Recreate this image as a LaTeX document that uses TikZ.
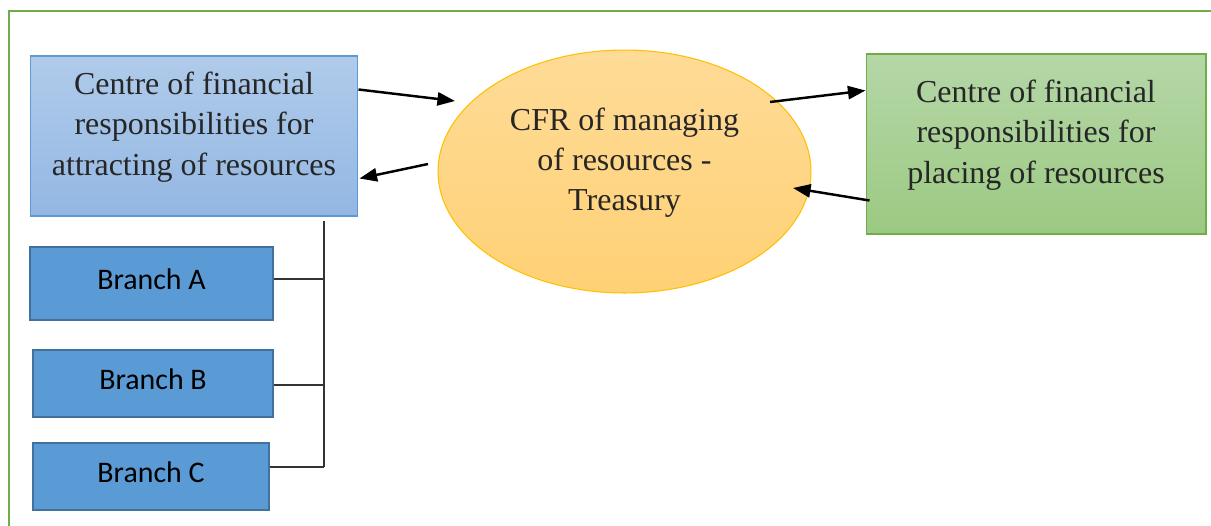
\documentclass[tikz,border=0pt]{standalone}
\usepackage{fontspec}
\setmainfont{Liberation Serif}
\newfontfamily\calibri{Carlito}
\usepackage{xcolor}
\usetikzlibrary{shapes.geometric}
\usetikzlibrary{arrows.meta}
\definecolor{frameGreen}{HTML}{70AD47}
\definecolor{blueTop}{HTML}{B0CBEA}
\definecolor{blueBot}{HTML}{93B7E3}
\definecolor{blueLine}{HTML}{5B9BD5}
\definecolor{greenTop}{HTML}{B5D7A8}
\definecolor{greenBot}{HTML}{9CC982}
\definecolor{orangeTop}{HTML}{FEDB97}
\definecolor{orangeBot}{HTML}{FFD175}
\definecolor{orangeLine}{HTML}{FFC000}
\definecolor{branchFill}{HTML}{5B9BD5}
\definecolor{branchLine}{HTML}{41719C}
\definecolor{textGrey}{HTML}{262626}

\begin{document}
\begin{tikzpicture}[x=0.02cm,y=-0.02cm,
	cfrtext/.style={align=center,text=textGrey,inner sep=0pt,text depth=14pt,
		font=\fontsize{18.2}{22.8}\selectfont},
	centre/.style={cfrtext,rectangle,draw,line width=0.6pt},
	branch/.style={rectangle,draw=branchLine,fill=branchFill,line width=1.2pt,
		inner sep=0pt,text depth=4.5pt,font=\calibri\fontsize{17}{20}\selectfont},
	flow/.style={line width=1.4pt,-{Triangle[length=10pt,width=7.5pt]}},
	bus/.style={line width=0.7pt,draw=black!80}]

	\useasboundingbox (0,0) rectangle (1211,525);
	\fill[white] (0,0) rectangle (1211,525);
	\draw[frameGreen,line width=1.5pt] (9,11) rectangle (1240,545);

	\node[centre,draw=blueLine,top color=blueTop,bottom color=blueBot,
		minimum width=6.56cm,minimum height=3.2cm] (attract) at (194,136)
		{Centre of financial\\responsibilities for\\attracting of resources};
	\node[centre,draw=frameGreen,top color=greenTop,bottom color=greenBot,
		minimum width=6.8cm,minimum height=3.6cm] (place) at (1036,144)
		{Centre of financial\\responsibilities for\\placing of resources};
	\node[cfrtext,ellipse,draw=orangeLine,line width=0.6pt,top color=orangeTop,bottom color=orangeBot,
		minimum width=7.46cm,minimum height=4.86cm] (treasury) at (624.5,171.5)
		{CFR of managing\\of resources -\\Treasury};

	\node[branch,minimum width=4.86cm,minimum height=1.46cm] (branchA) at (151.5,283.5) {Branch A};
	\node[branch,minimum width=4.8cm,minimum height=1.34cm] (branchB) at (153,383.5) {Branch B};
	\node[branch,minimum width=4.72cm,minimum height=1.34cm] (branchC) at (151,476.5) {Branch C};

	\coordinate (busTop) at (324,221);
	\coordinate (busBot) at (324,467);

	\draw[flow] ([shift={(0,34)}]attract.north east) -- ([shift={(-169.5,-70.5)}]treasury.center);
	\draw[flow] ([shift={(-196.5,-7.5)}]treasury.center) -- ([shift={(1,123)}]attract.north east);
	\draw[flow] ([shift={(145.5,-69.5)}]treasury.center) -- ([shift={(0,37)}]place.north west);
	\draw[flow] ([shift={(4,147)}]place.north west) -- ([shift={(168.5,16.5)}]treasury.center);

	\draw[bus] (busTop) -- (busBot);
	\draw[bus] ([shift={(0,-4.5)}]branchA.east) -- ([shift={(0,-4.5)}]branchA.east -| busTop);
	\draw[bus] ([shift={(0,1.5)}]branchB.east) -- ([shift={(0,1.5)}]branchB.east -| busTop);
	\draw[bus] ([shift={(0,-9.5)}]branchC.east) -- (busBot);

\end{tikzpicture}
\end{document}
